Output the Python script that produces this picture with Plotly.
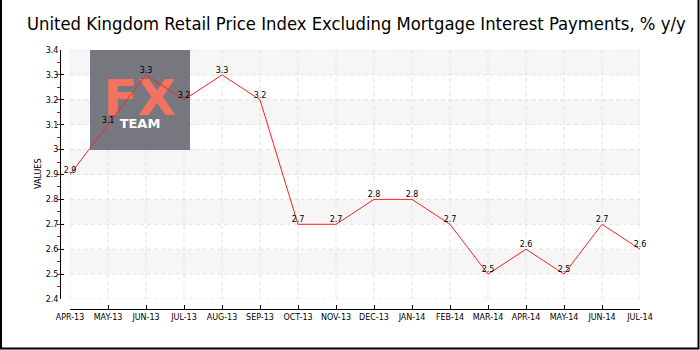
import plotly.graph_objects as go

# Monthly RPIX inflation, % y/y
months = ["APR-13", "MAY-13", "JUN-13", "JUL-13", "AUG-13", "SEP-13", "OCT-13", "NOV-13",
          "DEC-13", "JAN-14", "FEB-14", "MAR-14", "APR-14", "MAY-14", "JUN-14", "JUL-14"]
values = [2.9, 3.1, 3.3, 3.2, 3.3, 3.2, 2.7, 2.7, 2.8, 2.8, 2.7, 2.5, 2.6, 2.5, 2.7, 2.6]

title_text = "United Kingdom Retail Price Index Excluding Mortgage Interest Payments, % y/y"
y_min, y_max, y_step = 2.4, 3.4, 0.1

W, H = 700, 350
GRID = dict(color="#e2e2e2", width=1, dash="4px,3px")


def px(x):
    return x / W


def py(y):
    return 1 - y / H


fig = go.Figure()

fig.add_trace(go.Scatter(
    x=list(range(len(months))),
    y=values,
    mode="lines+text",
    line=dict(color="#ff2020", width=1),
    text=[f"{v:.1f}" for v in values],
    textposition="top center",
    textfont=dict(family="DejaVu Sans", size=8, color="#000000"),
    cliponaxis=False,
    hoverinfo="skip",
    showlegend=False,
))

shapes = []
n_steps = int(round((y_max - y_min) / y_step))

# alternating horizontal bands
for k in range(n_steps):
    if (n_steps - 1 - k) % 2 == 0:
        lo = y_min + k * y_step
        shapes.append(dict(type="rect", xref="x domain", yref="y", x0=0, x1=1,
                           y0=lo, y1=lo + y_step, fillcolor="#f6f6f6",
                           line=dict(width=0), layer="below"))

# dashed grid
for k in range(n_steps + 1):
    yv = y_min + k * y_step
    shapes.append(dict(type="line", xref="x domain", yref="y", x0=0, x1=1,
                       y0=yv, y1=yv, line=GRID, layer="below"))
for i in range(len(months)):
    shapes.append(dict(type="line", xref="x", yref="y domain", x0=i, x1=i,
                       y0=0, y1=1, line=GRID, layer="below"))

# watermark box, drawn over the grid but under the series
shapes.append(dict(type="rect", xref="paper", yref="paper",
                   x0=px(90), x1=px(190), y0=py(150), y1=py(50),
                   fillcolor="#77777f", line=dict(width=0), layer="below"))
shapes.append(dict(type="rect", xref="paper", yref="paper",
                   x0=px(90), x1=px(190), y0=py(114), y1=py(73),
                   fillcolor="rgba(0,0,0,0)", line=dict(width=0), layer="below",
                   label=dict(text="FX", textposition="middle center",
                              font=dict(family="DejaVu Sans", size=50, color="#f3735e",
                                        weight="bold"))))
shapes.append(dict(type="rect", xref="paper", yref="paper",
                   x0=px(90), x1=px(190), y0=py(131), y1=py(114),
                   fillcolor="rgba(0,0,0,0)", line=dict(width=0), layer="below",
                   label=dict(text="TEAM", textposition="middle center",
                              font=dict(family="DejaVu Sans", size=13, color="#ffffff",
                                        weight="bold"))))

# outer frame
shapes.append(dict(type="rect", xref="paper", yref="paper",
                   x0=px(1), x1=px(698.5), y0=py(348.5), y1=py(-3),
                   fillcolor="rgba(0,0,0,0)", line=dict(color="#000000", width=2),
                   layer="above"))

fig.update_layout(
    width=W,
    height=H,
    margin=dict(l=0, r=0, t=0, b=0, autoexpand=False),
    paper_bgcolor="#ffffff",
    plot_bgcolor="#ffffff",
    shapes=shapes,
    xaxis=dict(
        domain=[px(70), px(640)],
        range=[0, len(months) - 1],
        tickmode="array",
        tickvals=list(range(len(months))),
        ticktext=months,
        anchor="free",
        position=py(309),
        automargin=False,
        showline=True,
        linecolor="#000000",
        linewidth=1,
        ticks="inside",
        ticklen=4,
        tickcolor="#000000",
        tickfont=dict(family="DejaVu Sans", size=8, color="#000000"),
        showgrid=False,
        zeroline=False,
        fixedrange=True,
    ),
    yaxis=dict(
        domain=[py(299), py(50)],
        range=[y_min, y_max],
        dtick=y_step,
        anchor="free",
        position=px(60),
        automargin=False,
        showline=True,
        linecolor="#000000",
        linewidth=1,
        ticks="inside",
        ticklen=3,
        tickcolor="#000000",
        tickfont=dict(family="DejaVu Sans", size=8, color="#000000"),
        showgrid=False,
        zeroline=False,
        minor=dict(dtick=y_step / 2, ticks="outside", ticklen=3, tickcolor="#ff0000",
                   showgrid=False),
        fixedrange=True,
    ),
    annotations=[
        dict(text=title_text, xref="paper", yref="paper", x=px(25), y=py(23),
             xanchor="left", yanchor="middle", showarrow=False,
             font=dict(family="DejaVu Sans Condensed, Liberation Sans, sans-serif",
                       size=18.3, color="#000000")),
        dict(text="VALUES", xref="paper", yref="paper", x=px(38), y=py(174),
             xanchor="center", yanchor="middle", textangle=-90, showarrow=False,
             font=dict(family="DejaVu Sans", size=8, color="#000000")),
    ],
)

fig.write_html("out.html")
